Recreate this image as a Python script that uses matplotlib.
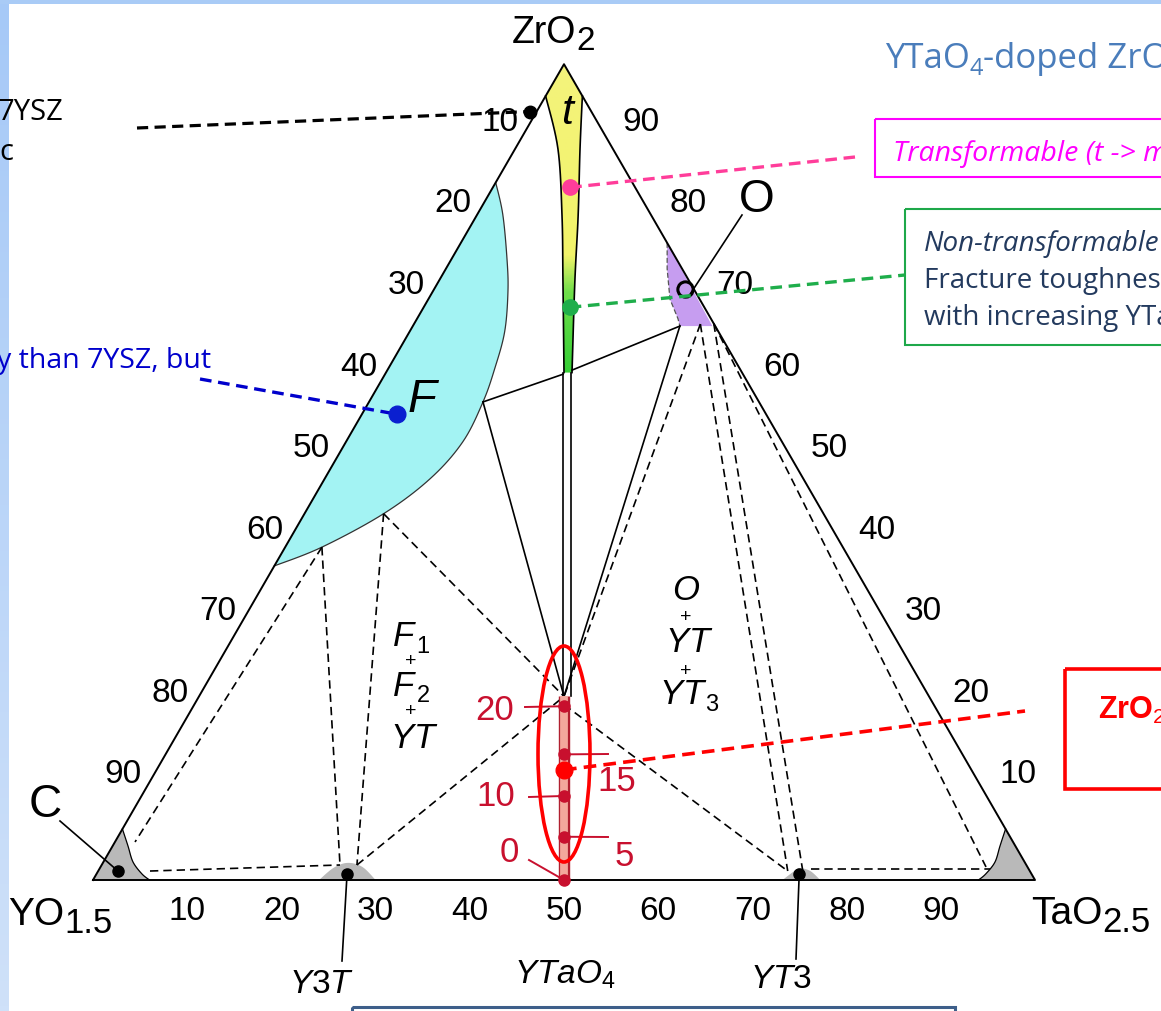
import numpy as np
import matplotlib
matplotlib.use("Agg")
import matplotlib.pyplot as plt
from matplotlib.patches import Polygon, Ellipse, Rectangle
from matplotlib.colors import LinearSegmentedColormap

plt.rcParams['font.family'] = ['Liberation Sans', 'DejaVu Sans']
plt.rcParams['mathtext.fontset'] = 'custom'
plt.rcParams['mathtext.rm'] = 'Liberation Sans'
plt.rcParams['mathtext.it'] = 'Liberation Sans:italic'
plt.rcParams['mathtext.bf'] = 'Liberation Sans:bold'

# ---------------------------------------------------------------- data
# compositions in mol%:  b = TaO2.5 , c = ZrO2  (YO1.5 = 100 - b - c)
tick_values = [10, 20, 30, 40, 50, 60, 70, 80, 90]
tick_labels = ['10', '20', '30', '40', '50', '60', '70', '80', '90']

# fluorite (F) field boundary
F_b = [0.0, 2.7, 5.9, 8.0, 10.1, 11.3, 12.1, 12.4, 11.2, 8.4, 3.9, 0.0]
F_c = [85.5, 81.6, 76.1, 72.1, 67.2, 62.7, 58.6, 53.7, 49.2, 44.9, 40.8, 38.5]

# tetragonal (t) field boundaries
t_left_b = [0.0, 4.56, 9.09, 13.24, 18.9]
t_left_c = [96.1, 89.6, 81.4, 73.3, 62.2]
t_right_b = [3.9, 6.9, 10.8, 14.5, 19.75]
t_right_c = [96.1, 89.6, 81.4, 73.3, 62.2]

# narrow single-phase band along ZrO2-YTaO4 join
band_left_b = [18.8, 38.65]
band_right_b = [19.65, 39.5]
band_c = [62.2, 22.5]

# orthorhombic (O) field
O_b = [21.9, 23.5, 25.65, 27.7, 28.35, 31.8]
O_c = [78.1, 74.9, 71.2, 68.8, 67.9, 67.9]

# small corner / compound fields
C_b = [0.0, 0.0, 1.63, 3.15, 4.83, 6.0]
C_c = [0.0, 6.25, 4.17, 2.2, 0.74, 0.0]
R_b = [100.0, 93.75, 94.2, 94.65, 94.4, 94.0]
R_c = [0.0, 6.25, 4.17, 2.2, 0.74, 0.0]
Y3T_b = [24.0, 24.8, 26.0, 27.8, 30.0]
Y3T_c = [0.0, 1.5, 2.1, 1.6, 0.0]
YT3_b = [73.2, 73.9, 74.3, 75.6, 77.2]
YT3_c = [0.0, 1.1, 1.45, 1.1, 0.0]

# points used by tie lines
F_junc = (12.1, 58.6)
F_end = (3.9, 40.8)
F_p2 = (8.4, 44.9)
t_left_pt = (18.9, 62.0)
t_right_pt = (19.6, 62.5)
O_left = (28.35, 67.9)
O_mid = (30.4, 68.15)
O_right = (31.8, 68.2)
YT_top = (38.75, 22.5)
YT_low = (39.25, 21.5)
C_pt = (2.13, 4.66)
C_pt2 = (5.5, 1.1)
Y3T_l = (25.3, 1.84)
Y3T_r = (27.1, 1.84)
YT3_l = (73.2, 1.1)
YT3_r = (74.8, 1.1)
YT3_h = (75.5, 1.35)
R_h = (94.6, 1.35)
R_pt = (94.0, 1.6)

solid_ties = [(F_junc, t_left_pt), (t_right_pt, O_left), (F_junc, YT_top), (O_left, YT_top)]
dashed_ties = [(O_mid, YT_top), (O_mid, YT3_l), (O_right, YT3_r), (O_right, R_pt),
               (YT3_h, R_h), (F_end, C_pt), (F_end, Y3T_l), (F_p2, Y3T_r),
               (C_pt2, Y3T_l), (F_p2, YT_top), (Y3T_r, YT_top), (YT_low, YT3_l)]

# compound points
C_dot = (2.1, 1.1)
Y3T_dot = (26.6, 0.74)
YT3_dot = (74.6, 0.74)
O_small = (26.65, 72.4)

# studied compositions on the YTaO4 join (ZrO2 mol%)
join_c = [21.3, 15.4, 10.3, 5.3, 0.0]
join_labels = ['20', '15', '10', '5', '0']
selected_c = 13.5

# callout points
ysz_pt = (-0.7, 94.2)
trans_pt = (8.2, 84.9)
nontrans_pt = (15.5, 70.2)
F_pt = (3.7, 57.1)

# ---------------------------------------------------------------- figure
W, H = 1161, 1012
fig = plt.figure(figsize=(W / 100, H / 100), dpi=100)
ax = fig.add_axes([0, 0, 1, 1])
ax.set_xlim(0, W)
ax.set_ylim(H, 0)
ax.axis('off')
renderer = fig.canvas.get_renderer()

X0, Y0, SIDE = 93.0, 881.0, 942.0
S3 = np.sqrt(3) / 2


def tern(b, c):
    b = np.asarray(b, float)
    c = np.asarray(c, float)
    return X0 + SIDE * (b / 100 + c / 200), Y0 - SIDE * S3 * c / 100


def tp(p):
    x, y = tern(p[0], p[1])
    return float(x), float(y)


def smooth(x, y, n=10):
    P = np.column_stack([x, y])
    P = np.vstack([P[0], P, P[-1]])
    out = []
    for i in range(1, len(P) - 2):
        p0, p1, p2, p3 = P[i - 1], P[i], P[i + 1], P[i + 2]
        t = np.linspace(0, 1, n, endpoint=False)[:, None]
        out.append(0.5 * (2 * p1 + (-p0 + p2) * t + (2 * p0 - 5 * p1 + 4 * p2 - p3) * t ** 2
                          + (-p0 + 3 * p1 - 3 * p2 + p3) * t ** 3))
    out.append(P[-2][None, :])
    o = np.vstack(out)
    return o[:, 0], o[:, 1]


# background strips
grad = np.linspace(0, 1, 200)[:, None]
ax.imshow(grad, extent=[0, 9, H, 0], aspect='auto', zorder=0,
          cmap=LinearSegmentedColormap.from_list('b', ['#a6c9f7', '#cfe1f9']))
ax.add_patch(Rectangle((0, 0), W, 5, color='#a9cbf6', lw=0, zorder=0))

LW = 1.2
# ---- F field (cyan)
fx, fy = smooth(*tern(F_b, F_c))
ax.add_patch(Polygon(np.column_stack([fx, fy]), closed=True, facecolor='#a3f3f3',
                     edgecolor='none', zorder=1))
ax.plot(fx, fy, color='#333', lw=0.9, zorder=3)

# ---- t field (yellow -> green)
lx, ly = smooth(*tern(t_left_b, t_left_c))
rx, ry = smooth(*tern(t_right_b, t_right_c))
ax_, ay_ = tp((0, 100))
poly = np.vstack([[ax_, ay_], np.column_stack([lx, ly]), np.column_stack([rx, ry])[::-1]])
tpatch = Polygon(poly, closed=True, facecolor='none', edgecolor='none')
ax.add_patch(tpatch)
cm_t = LinearSegmentedColormap.from_list('t', [(0, '#f4f37c'), (0.62, '#f2f36a'),
                                               (0.74, '#6fde4a'), (1, '#35cf35')])
im = ax.imshow(np.linspace(0, 1, 300)[:, None], extent=[poly[:, 0].min(), poly[:, 0].max(),
                                                         poly[:, 1].max(), poly[:, 1].min()],
               aspect='auto', cmap=cm_t, zorder=1)
im.set_clip_path(tpatch)
ax.plot(lx, ly, color='k', lw=LW, zorder=3)
ax.plot(rx, ry, color='k', lw=LW, zorder=3)
for bb in (band_left_b, band_right_b):
    ax.plot(*tern(bb, band_c), color='k', lw=LW, zorder=3)

# ---- O field (purple)
ox, oy = tern(O_b, O_c)
ax.add_patch(Polygon(np.column_stack([ox, oy]), closed=True, facecolor='#c69df0',
                     edgecolor='none', zorder=1))
ax.plot(ox[:5], oy[:5], color='#555', lw=0.9, ls=(0, (4, 2)), zorder=3)

# ---- grey fields
for bb, cc in ((C_b, C_c), (R_b, R_c), (Y3T_b, Y3T_c), (YT3_b, YT3_c)):
    gx, gy = tern(bb, cc)
    if len(bb) == 5:
        gx, gy = smooth(gx, gy, 8)
    ax.add_patch(Polygon(np.column_stack([gx, gy]), closed=True, facecolor='#b9b9b9',
                         edgecolor='none', zorder=1))
cx, cy = smooth(*tern(C_b[1:], C_c[1:]))
ax.plot(cx, cy, color='k', lw=0.9, zorder=3)
rx2, ry2 = smooth(*tern(R_b[1:], R_c[1:]))
ax.plot(rx2, ry2, color='k', lw=0.9, zorder=3)

# ---- tie lines
for p, q in solid_ties:
    ax.plot(*zip(tp(p), tp(q)), color='k', lw=LW, zorder=3)
for p, q in dashed_ties:
    ax.plot(*zip(tp(p), tp(q)), color='k', lw=LW, dashes=(5, 3), zorder=3)

# ---- triangle frame
tri = np.array([tp((0, 0)), tp((100, 0)), tp((0, 100)), tp((0, 0))])
ax.plot(tri[:, 0], tri[:, 1], color='k', lw=1.4, zorder=4)

# ---- tick labels
FS = 24
for v, s in zip(tick_values, tick_labels):
    x, y = tp((v, 0))
    ax.text(x, y + 31, s, fontsize=FS, ha='center', va='center')
    x, y = tp((0, 100 - v + 3))
    ax.text(x - 31, y, s, fontsize=FS, ha='center', va='center')
    x, y = tp((100 - v - 3, v + 3))
    ax.text(x + 44, y, s, fontsize=FS, ha='center', va='center')


def chain(x, y, parts, **kw):
    for s, fs, dy, extra in parts:
        t = ax.text(x, y + dy, s, fontsize=fs, ha='left', va='baseline', **kw, **extra)
        x += t.get_window_extent(renderer).width
    return x


# vertex labels
chain(512, 43, [('ZrO', 27, 0, {}), ('2', 24, 7, {})])
chain(8, 925, [('YO', 28, 0, {}), ('1.5', 25, 8, {})])
chain(1031, 924, [('TaO', 28, 0, {}), ('2.5', 25, 8, {})])

# compound labels
ax.text(565, 975, r'$YTaO_4$', fontsize=24, ha='center', va='center')
ax.text(322, 985, r'$Y3T$', fontsize=24, ha='center', va='center')
ax.text(781, 980, r'$YT3$', fontsize=24, ha='center', va='center')
ax.plot([342, tp(Y3T_dot)[0]], [962, tp(Y3T_dot)[1]], color='k', lw=LW, zorder=3)
ax.plot([796, tp(YT3_dot)[0]], [960, tp(YT3_dot)[1]], color='k', lw=LW, zorder=3)
ax.text(45, 805, 'C', fontsize=33, ha='center', va='center')
ax.plot([60, tp(C_dot)[0]], [822, tp(C_dot)[1]], color='k', lw=LW, zorder=3)
ax.text(757, 200, 'O', fontsize=33, ha='center', va='center')
ax.plot([742, tp(O_small)[0] + 3], [216, tp(O_small)[1] + 8], color='k', lw=LW, zorder=3)
ax.plot(*tp(O_small), marker='o', ms=11, mfc='none', mec='k', mew=2.2, zorder=5)
for p in (C_dot, Y3T_dot, YT3_dot):
    ax.plot(*tp(p), 'o', color='k', ms=8, zorder=5)
ax.text(567, 113, 't', fontsize=31, style='italic', ha='center', va='center')
ax.text(422, 400, 'F', fontsize=34, style='italic', ha='center', va='center')

# region labels
RS, SS = 25, 17
ax.text(404, 637, r'$F$', fontsize=RS, ha='center', va='center')
ax.text(423, 647, r'$1$', fontsize=SS, ha='center', va='center')
ax.text(411, 662, '+', fontsize=14, ha='center', va='center')
ax.text(404, 686, r'$F$', fontsize=RS, ha='center', va='center')
ax.text(423, 696, r'$2$', fontsize=SS, ha='center', va='center')
ax.text(411, 712, '+', fontsize=14, ha='center', va='center')
ax.text(414, 738, r'$YT$', fontsize=RS, ha='center', va='center')
ax.text(686, 590, r'$O$', fontsize=RS, ha='center', va='center')
ax.text(686, 617, '+', fontsize=14, ha='center', va='center')
ax.text(689, 642, r'$YT$', fontsize=RS, ha='center', va='center')
ax.text(686, 671, '+', fontsize=14, ha='center', va='center')
ax.text(683, 694, r'$YT$', fontsize=RS, ha='center', va='center')
ax.text(712, 705, r'$3$', fontsize=SS, ha='center', va='center')

# ---- studied compositions on the join
DR = '#c8102e'
jx0, jy0 = tern((100 - YT_top[1]) / 2, YT_top[1])
jx1, jy1 = tern(50, 0)
ax.plot([jx0, jx1], [jy0, jy1], color='#b02030', lw=8.2, solid_capstyle='butt', zorder=4)
ax.plot([jx0, jx1], [jy0, jy1], color='#f3a89c', lw=5.6, solid_capstyle='butt', zorder=4)
jb = [(100 - c) / 2 for c in join_c]
jx, jy = tern(jb, join_c)
ax.plot(jx, jy, 'o', color=DR, ms=8, zorder=6)
lab_pos = {'20': (495, 710, 525, 708), '10': (496, 797, 529, 798), '0': (509, 853, 529, 861),
           '15': (617, 782, 608, 755), '5': (624, 857, 608, 838)}
for (x, y), s in zip(zip(jx, jy), join_labels):
    tx, ty, lx_, ly_ = lab_pos[s]
    ax.text(tx, ty, s, fontsize=25, color=DR, ha='center', va='center')
    ax.plot([lx_, x], [ly_, y], color=DR, lw=1.4, zorder=5)
ax.add_patch(Ellipse((564, 755), 52, 216, fill=False, edgecolor='red', lw=2.6, zorder=7))
sx, sy = tp(((100 - selected_c) / 2, selected_c))
ax.plot([sx, 1025], [sy, 712], color='red', lw=2.6, dashes=(3.5, 2), zorder=7)
ax.plot(sx, sy, 'o', color='red', ms=12, zorder=8)

# ---- call-outs
ANN = ['Open Sans', 'DejaVu Sans']
x, y = tp(ysz_pt)
ax.plot([137, x], [129, y], color='k', lw=2.3, dashes=(3.5, 2), zorder=7)
ax.plot(x, y, 'o', color='k', ms=9, zorder=8)
ax.text(-2, 120, '7YSZ', fontsize=21, family=ANN, ha='left', va='baseline')
ax.text(-1, 160, 'c', fontsize=21, family=ANN, ha='left', va='baseline')

x, y = tp(F_pt)
ax.plot([200, x], [380, y], color='#0000cc', lw=2.4, dashes=(3.5, 2), zorder=7)
ax.plot(x, y, 'o', color='#0a1fd0', ms=12, zorder=8)
ax.text(211, 368, 'y than 7YSZ, but', fontsize=20.5, family=ANN, color='#0000cc',
        ha='right', va='baseline')

x, y = tp(trans_pt)
ax.plot([x, 855], [y, 158], color='#ff3d9a', lw=2.4, dashes=(3.5, 2), zorder=7)
ax.plot(x, y, 'o', color='#ff3d9a', ms=11, zorder=8)
ax.add_patch(Rectangle((875, 120), 400, 58, fill=False, edgecolor='#ff00ff', lw=1.5, zorder=7))
ax.text(893, 161, 'Transformable (t -> m)', fontsize=20.5, family=ANN, style='italic',
        color='#ff00ff', ha='left', va='baseline')

x, y = tp(nontrans_pt)
ax.plot([x, 905], [y, 276], color='#1fae4b', lw=2.4, dashes=(3.5, 2), zorder=7)
ax.plot(x, y, 'o', color='#1fae4b', ms=11, zorder=8)
ax.add_patch(Rectangle((905, 210), 400, 136, fill=False, edgecolor='#1ea84a', lw=1.5, zorder=7))
NAVY = '#233a5e'
ax.text(924, 251, 'Non-transformable', fontsize=20, family=ANN, style='italic', color=NAVY,
        ha='left', va='baseline')
ax.text(924, 288, 'Fracture toughness', fontsize=20, family=ANN, color=NAVY, ha='left', va='baseline')
ax.text(924, 325, 'with increasing YTaO4', fontsize=20, family=ANN, color=NAVY, ha='left', va='baseline')

ax.add_patch(Rectangle((1065, 670), 400, 120, fill=False, edgecolor='red', lw=2.6, zorder=7))
ax.text(1098, 719, 'ZrO$_2$', fontsize=22, fontweight='bold', color='red', ha='left',
        va='baseline', family=['Liberation Sans'])

chain(885, 68, [('YTaO', 25, 0, {}), ('4', 17, 7, {}), ('-doped ZrO', 25, 0, {}), ('2', 17, 7, {})],
      family=ANN, color='#4a7dbb')

ax.add_patch(Rectangle((352, 1008), 603, 40, fill=False, edgecolor='#3e5f8a', lw=2.2, zorder=7))

fig.savefig('out.png', dpi=100)
